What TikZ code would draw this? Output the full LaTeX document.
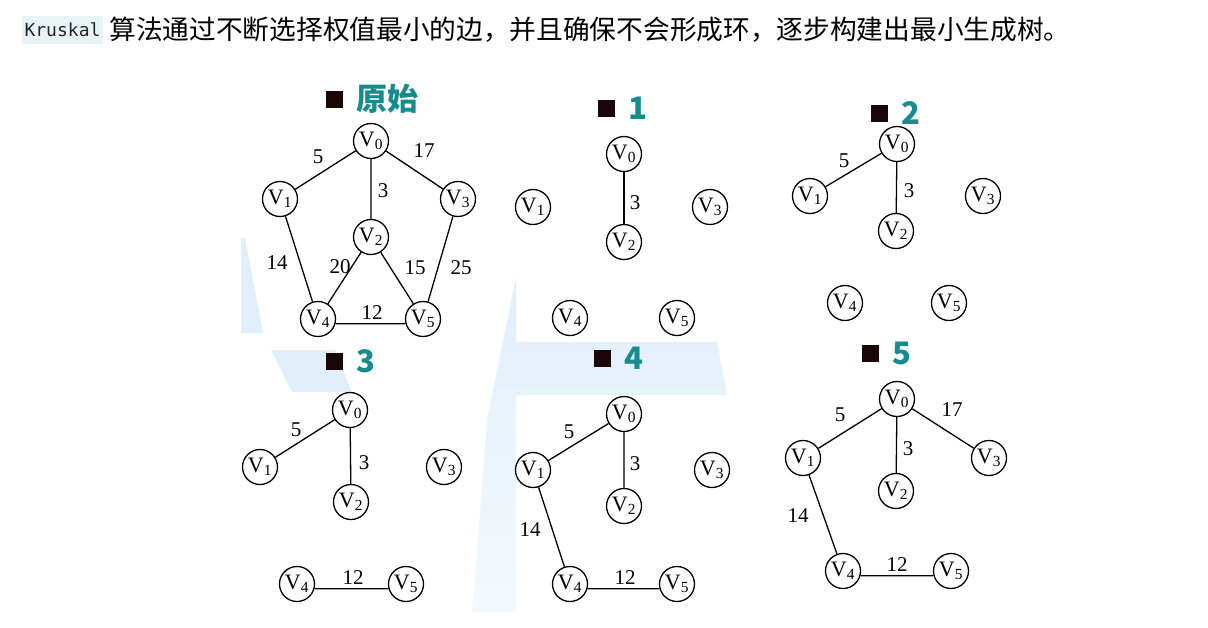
\documentclass[tikz,border=0pt]{standalone}
\usepackage{fontspec}
\setmainfont{Liberation Serif}
\setmonofont{DejaVu Sans Mono}
\newfontfamily\cjk{Noto Sans CJK SC}
\usepackage{tikz}
\usepackage{xcolor}
\usetikzlibrary{positioning}
\definecolor{titlecol}{RGB}{22,140,142}
\definecolor{wmblue}{RGB}{224,239,250}
\definecolor{codebg}{RGB}{231,243,245}
\definecolor{sqcol}{RGB}{26,6,8}
\newcommand{\vx}[1]{V\textsubscript{#1}}

\begin{document}
\begin{tikzpicture}[x=1pt,y=-1pt,
    vert/.style={circle,draw,line width=1.3pt,minimum size=35pt,inner sep=0pt,font=\fontsize{22}{22}\selectfont},
    wt/.style={inner sep=1pt,font=\fontsize{21}{21}\selectfont},
    lnk/.style={line width=1.3pt},
    sq/.style={fill=sqcol,minimum size=17pt,inner sep=0pt},
    ttl/.style={inner sep=0pt,text=titlecol,font=\cjk\bfseries\fontsize{31}{31}\selectfont}]
    \useasboundingbox (0,0) rectangle (1208,627);

    \fill[wmblue] (241,238) -- (245,238) -- (263,333) -- (241,333) -- cycle;
    \fill[wmblue] (271,350) -- (335,350) -- (352,392) -- (292,392) -- cycle;
    \shade[top color=wmblue, bottom color=wmblue!35!white] (516,278) -- (516,342) -- (717,342) -- (727,395) -- (516,395)
        -- (516,612) -- (472,612) -- (478,540) -- (487,420) -- cycle;

    \node[fill=codebg,inner sep=0pt,minimum width=81pt,minimum height=28pt,text=black!85,
        font=\ttfamily\fontsize{18}{18}\selectfont] (code) at (62.5,30) {Kruskal};
    \node[right=6pt of code,inner sep=0pt,font=\cjk\fontsize{26.7}{26.7}\selectfont] (intro)
        {算法通过不断选择权值最小的边，并且确保不会形成环，逐步构建出最小生成树。};

    \node[sq] (sa) at (334,99) {};
    \node[ttl,right=14pt of sa] (ta) {原始};
    \node[vert] (a0) at (371,141) {\vx0};
    \node[vert] (a1) at (280,199) {\vx1};
    \node[vert] (a2) at (371,237) {\vx2};
    \node[vert] (a3) at (458,199) {\vx3};
    \node[vert] (a4) at (318,319) {\vx4};
    \node[vert] (a5) at (423,319) {\vx5};
    \draw[lnk] (a0)--(a1) (a0)--(a3) (a0)--(a2) (a1)--(a4) (a2)--(a4) (a2)--(a5) (a3)--(a5) (a4.-15)--(a5.195);
    \node[wt] (la01) at (318,157) {5};
    \node[wt] (la03) at (424,151) {17};
    \node[wt] (la02) at (383,191) {3};
    \node[wt] (la14) at (277,263) {14};
    \node[wt] (la24) at (340,267) {20};
    \node[wt] (la25) at (415,268) {15};
    \node[wt] (la35) at (461,268) {25};
    \node[wt] (la45) at (372,313) {12};

    \node[sq] (sb) at (606,108) {};
    \node[ttl,right=14pt of sb] (tb) {1};
    \node[vert] (b0) at (624,154) {\vx0};
    \node[vert] (b1) at (533,207) {\vx1};
    \node[vert] (b2) at (624,242) {\vx2};
    \node[vert] (b3) at (710,207) {\vx3};
    \node[vert] (b4) at (570,318) {\vx4};
    \node[vert] (b5) at (677,318) {\vx5};
    \draw[lnk] (b0)--(b2);
    \node[wt] (lb02) at (635,203) {3};

    \node[sq] (sc) at (879,113) {};
    \node[ttl,right=14pt of sc] (tc) {2};
    \node[vert] (c0) at (897,144) {\vx0};
    \node[vert] (c1) at (810,196) {\vx1};
    \node[vert] (c2) at (896,231) {\vx2};
    \node[vert] (c3) at (983,196) {\vx3};
    \node[vert] (c4) at (845,303) {\vx4};
    \node[vert] (c5) at (949,303) {\vx5};
    \draw[lnk] (c0)--(c1) (c0)--(c2);
    \node[wt] (lc01) at (844,161) {5};
    \node[wt] (lc02) at (909,191) {3};

    \node[sq] (sd) at (334,361) {};
    \node[ttl,right=14pt of sd] (td) {3};
    \node[vert] (d0) at (350,410) {\vx0};
    \node[vert] (d1) at (260,467) {\vx1};
    \node[vert] (d2) at (351,502) {\vx2};
    \node[vert] (d3) at (444,467) {\vx3};
    \node[vert] (d4) at (297,584) {\vx4};
    \node[vert] (d5) at (406,584) {\vx5};
    \draw[lnk] (d0)--(d1) (d0)--(d2) (d4.-15)--(d5.195);
    \node[wt] (ld01) at (296,430) {5};
    \node[wt] (ld02) at (364,463) {3};
    \node[wt] (ld45) at (353,578) {12};

    \node[sq] (se) at (602,358) {};
    \node[ttl,right=14pt of se] (te) {4};
    \node[vert] (e0) at (624,414) {\vx0};
    \node[vert] (e1) at (533,470) {\vx1};
    \node[vert] (e2) at (624,506) {\vx2};
    \node[vert] (e3) at (712,470) {\vx3};
    \node[vert] (e4) at (570,584) {\vx4};
    \node[vert] (e5) at (677,584) {\vx5};
    \draw[lnk] (e0)--(e1) (e0)--(e2) (e1)--(e4) (e4.-15)--(e5.195);
    \node[wt] (le01) at (569,432) {5};
    \node[wt] (le02) at (635,464) {3};
    \node[wt] (le14) at (530,530) {14};
    \node[wt] (le45) at (625,578) {12};

    \node[sq] (sf) at (870,353) {};
    \node[ttl,right=14pt of sf] (tf) {5};
    \node[vert] (f0) at (897,399) {\vx0};
    \node[vert] (f1) at (803,458) {\vx1};
    \node[vert] (f2) at (896,491) {\vx2};
    \node[vert] (f3) at (989,458) {\vx3};
    \node[vert] (f4) at (843,571) {\vx4};
    \node[vert] (f5) at (951,571) {\vx5};
    \draw[lnk] (f0)--(f1) (f0)--(f2) (f0)--(f3) (f1)--(f4) (f4.-15)--(f5.195);
    \node[wt] (lf01) at (840,415) {5};
    \node[wt] (lf02) at (908,449) {3};
    \node[wt] (lf03) at (952,410) {17};
    \node[wt] (lf14) at (798,516) {14};
    \node[wt] (lf45) at (897,565) {12};
\end{tikzpicture}
\end{document}
